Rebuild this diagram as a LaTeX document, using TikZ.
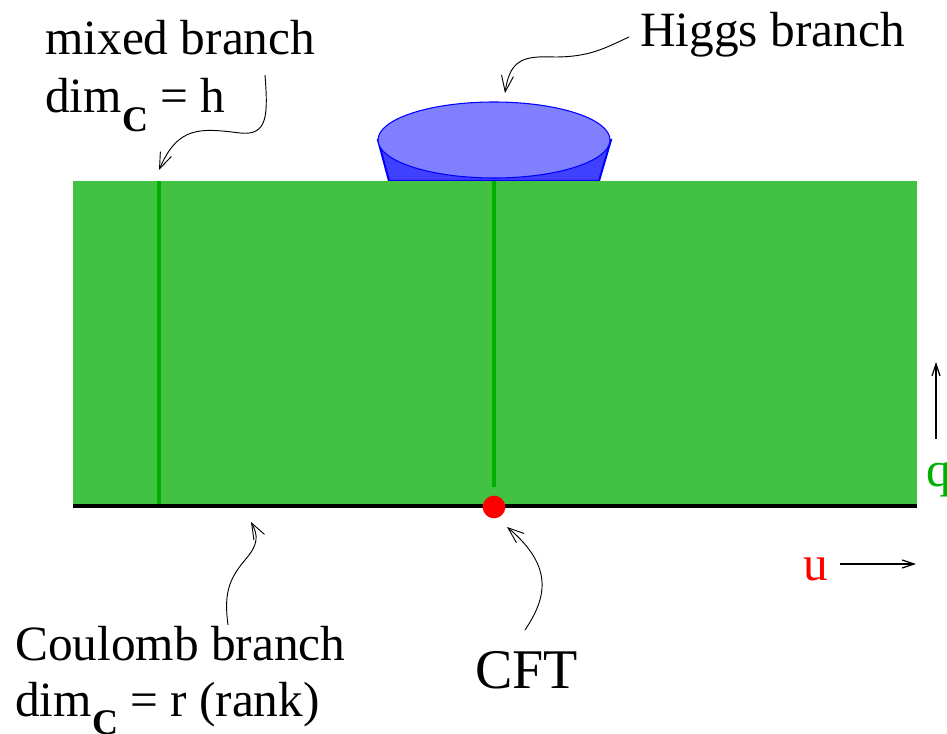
\documentclass[tikz,border=0pt]{standalone}
\usepackage{fontspec}
\setmainfont{Liberation Serif}
\newfontfamily\timesfont{Liberation Serif}
\usetikzlibrary{arrows.meta}
\definecolor{fieldgreen}{HTML}{42C242}
\definecolor{linegreen}{HTML}{00B000}
\definecolor{conedark}{HTML}{4040FF}
\definecolor{conelight}{HTML}{8080FF}
\tikzset{
  lbl/.style={anchor=base west, inner sep=0pt, font=\timesfont\fontsize{37}{40}\selectfont},
  pointer/.style={line width=0.7pt, -{Straight Barb[length=12pt,width=9pt]}},
  axisarrow/.style={line width=0.9pt, -{Straight Barb[length=9pt,width=6pt]}},
}
\newcommand{\dimC}{dim\raisebox{-14pt}{\fontsize{27}{27}\selectfont\bfseries C}}
\begin{document}
\begin{tikzpicture}[x=0.75pt,y=-0.75pt]
\path[use as bounding box] (0,0) rectangle (947,734);
% Higgs cone
\filldraw[fill=conedark, draw=blue, line width=1.5pt] (378,140) -- (389,181) -- (599,181) -- (611,140) -- cycle;
\filldraw[fill=conelight, draw=blue, line width=0.8pt] (494,140) ellipse [x radius=116, y radius=38];
% field
\fill[fieldgreen] (73,181) rectangle (917,506);
\draw[linegreen, line width=2.5pt] (159,181) -- (159,506);
\draw[linegreen, line width=2.5pt] (494,181) -- (494,487);
\draw[black, line width=2.4pt] (73,506) -- (917,506);
\node[circle, fill=red, inner sep=0pt, minimum size=17pt] (cft) at (494,507) {};
% labels
\node[lbl] (mixed) at (45,55) {mixed branch};
\node[lbl] (mixeddim) at (45,113) {\dimC{} = h};
\node[lbl] (higgs) at (640,47) {Higgs branch};
\node[lbl] (coulomb) at (15,660) {Coulomb branch};
\node[lbl] (coulombdim) at (15,716) {\dimC{} = r (rank)};
\node[lbl, font=\timesfont\fontsize{42}{44}\selectfont] (cftlbl) at (475,688) {CFT};
\node[lbl, text=red] (ulbl) at (803,580) {u};
\node[lbl, text=linegreen] (qlbl) at (926,487) {q};
% pointer coordinates
\coordinate (hs) at (629,37);
\coordinate (ht) at (505,93);
\coordinate (ms) at (265,75);
\coordinate (mt) at (159,170);
\coordinate (cs) at (228,625);
\coordinate (ct) at (251,522);
\coordinate (fs) at (525,630);
\coordinate (ft) at (507,527);
\coordinate (us) at (840,564);
\coordinate (ut) at (916,564);
\coordinate (qs) at (936,439);
\coordinate (qt) at (936,362);
% pointers
\draw[pointer] (hs) .. controls (605,48) and (590,57) .. (555,57) .. controls (525,56) and (510,58) .. (ht);
\draw[pointer] (ms) .. controls (268,115) and (268,136) .. (240,133) .. controls (200,128) and (178,126) .. (mt);
\draw[pointer] (cs) .. controls (224,595) and (228,580) .. (245,560) .. controls (259,544) and (258,535) .. (ct);
\draw[pointer] (fs) .. controls (545,600) and (556,568) .. (ft);
\draw[axisarrow] (us) -- (ut);
\draw[axisarrow] (qs) -- (qt);
\end{tikzpicture}
\end{document}
